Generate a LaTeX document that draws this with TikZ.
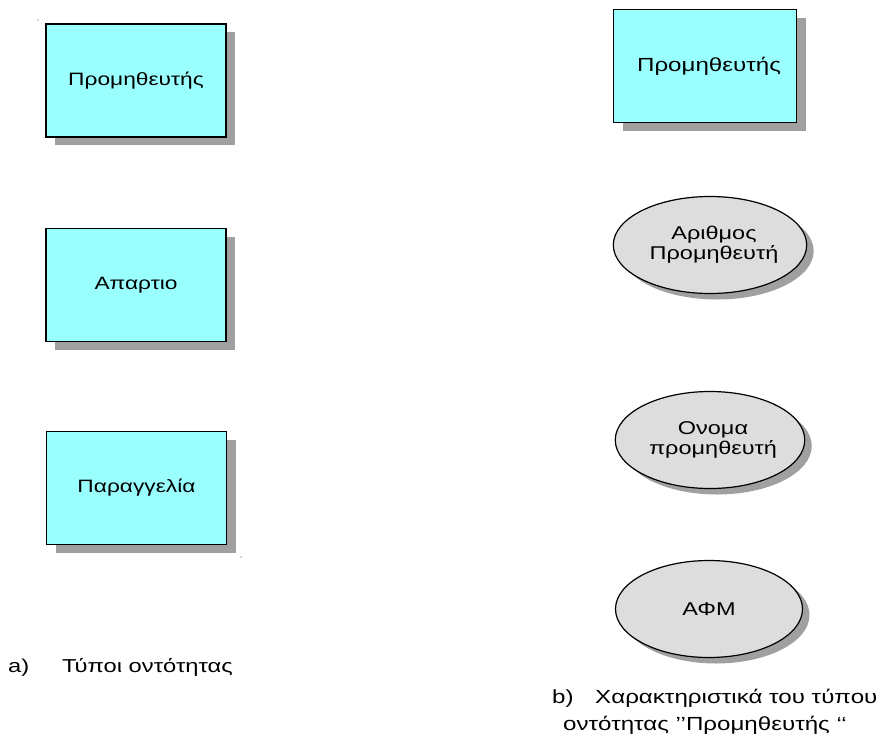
\documentclass[tikz,border=0pt]{standalone}
\usepackage{fontspec}
\setmainfont[FakeStretch=1.27]{Liberation Sans}
\usetikzlibrary{shapes.geometric,shadows}
\definecolor{entcyan}{RGB}{153,255,255}
\definecolor{attrgray}{RGB}{221,221,221}
\definecolor{shadegray}{RGB}{160,160,160}
\tikzset{
  entity/.style={draw, line width=1.4pt, fill=entcyan, minimum width=180pt, minimum height=113pt,
    inner sep=0pt, font=\fontsize{17.9}{20}\selectfont,
    drop shadow={shadow xshift=9pt, shadow yshift=-8pt, fill=shadegray, opacity=1}},
  attrib/.style={ellipse, draw, line width=1.2pt, fill=attrgray, minimum width=187pt, minimum height=97pt,
    inner sep=0pt, align=center, font=\fontsize{18.5}{20}\selectfont,
    drop shadow={shadow xshift=7pt, shadow yshift=-6pt, fill=shadegray, opacity=1}},
  caption/.style={anchor=base west, inner sep=0pt, font=\fontsize{18.7}{20}\selectfont},
  captionb/.style={caption, font=\fontsize{19}{26}\selectfont}
}
\begin{document}
\begin{tikzpicture}[x=1pt, y=-1pt]
  \useasboundingbox (0,0) rectangle (880,747);
  % τύποι οντότητας (αριστερά)
  \node[entity] (prom) at (136,80.5) {Προμηθευτής};
  \node[entity] (apartio) at (136,285) {Απαρτιο};
  \node[entity] (parag) at (136.5,488) {Παραγγελία};
  % χαρακτηριστικά (δεξιά)
  \node[entity, minimum width=183pt, minimum height=113pt, font=\fontsize{19}{20}\selectfont]
    (promb) at (705,66) {\hspace*{8pt}Προμηθευτής};
  \node[attrib] (arithmos) at (710,245) {\hspace*{8pt}Αριθμος\\\hspace*{8pt}Προμηθευτή};
  \node[attrib] (onoma) at (710,440) {\hspace*{6pt}Ονομα\\\hspace*{6pt}προμηθευτή};
  \node[attrib] (afm) at (709,609) {ΑΦΜ};
  % λεζάντες
  \node[caption] (capa) at (8,672) {a)};
  \node[caption] (capatext) at (62,672) {Τύποι οντότητας};
  \node[captionb] (capb) at (552,703) {b)};
  \node[captionb] (capbtext) at (595,703) {Χαρακτηριστικά του τύπου};
  \node[captionb] (capbline) at (563,730) {οντότητας ’’Προμηθευτής ‘‘};
  % μικρές κουκκίδες
  \fill[black!70] (38,20) circle (0.6);
  \fill[black!70] (241,557) circle (0.6);
\end{tikzpicture}
\end{document}
